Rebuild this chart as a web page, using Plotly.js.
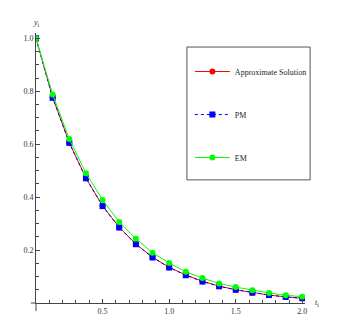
<!DOCTYPE html>
<html><head><meta charset="utf-8">
<script src="https://cdn.plot.ly/plotly-3.0.1.min.js"></script>
<style>html,body{margin:0;padding:0;background:#fff;}#chart{width:345px;height:317px;}</style>
</head><body><div id="chart"></div>
<script>
var tValues = [0, 0.125, 0.25, 0.375, 0.5, 0.625, 0.75, 0.875, 1.0, 1.125, 1.25, 1.375, 1.5, 1.625, 1.75, 1.875, 2.0];
var approxValues = [1.0, 0.777, 0.606, 0.472, 0.367, 0.286, 0.223, 0.173, 0.135, 0.106, 0.082, 0.064, 0.050, 0.039, 0.030, 0.023, 0.018];
var pmValues = [1.0, 0.775, 0.605, 0.471, 0.366, 0.285, 0.222, 0.172, 0.134, 0.105, 0.081, 0.063, 0.050, 0.039, 0.030, 0.023, 0.018];
var emValues = [1.0, 0.788, 0.620, 0.490, 0.389, 0.306, 0.243, 0.190, 0.151, 0.118, 0.094, 0.074, 0.060, 0.048, 0.038, 0.029, 0.024];
var seriesNames = ["Approximate Solution", "PM", "EM"];
var xTickVals = [0.5, 1.0, 1.5, 2.0];
var xTickText = ["0.5", "1.0", "1.5", "2.0"];
var yTickVals = [0.2, 0.4, 0.6, 0.8, 1.0];
var yTickText = ["0.2", "0.4", "0.6", "0.8", "1.0"];

var font = {family: "Liberation Serif, Times New Roman, serif", size: 8, color: "#333"};
var legendFont = {family: "Liberation Serif, Times New Roman, serif", size: 8, color: "#222"};

var traces = [
  {x: tValues, y: approxValues, name: seriesNames[0], mode: "lines+markers", legendgroup: "a",
   line: {color: "#ff0000", width: 1}, marker: {symbol: "circle", size: 6, color: "#ff0000"}},
  {x: tValues, y: pmValues, name: seriesNames[1], mode: "lines+markers", legendgroup: "b",
   line: {color: "#0000ff", width: 1, dash: "dot"}, marker: {symbol: "square", size: 6, color: "#0000ff"}},
  {x: tValues, y: emValues, name: seriesNames[2], mode: "lines+markers", legendgroup: "c",
   line: {color: "#00ff00", width: 1}, marker: {symbol: "circle", size: 6, color: "#00ff00"}}
];

var layout = {
  width: 345, height: 317,
  margin: {l: 36, r: 40, t: 33, b: 14, pad: 0},
  paper_bgcolor: "#fff", plot_bgcolor: "#fff",
  font: font,
  showlegend: true,
  legend: {x: 0.572, y: 0.911, xanchor: "left", yanchor: "top", bgcolor: "rgba(0,0,0,0)",
           borderwidth: 0, traceorder: "grouped", tracegroupgap: 24, itemwidth: 35, font: legendFont},
  xaxis: {range: [0, 2.02], showgrid: false, zeroline: false, showline: true, linecolor: "#444", linewidth: 1,
          tickmode: "array", tickvals: xTickVals, ticktext: xTickText, ticks: "inside", ticklen: 4,
          tickcolor: "#444", tickfont: font,
          minor: {dtick: 0.1, tick0: 0, ticks: "inside", ticklen: 3, tickcolor: "#444", showgrid: false}},
  yaxis: {range: [0, 1.02], showgrid: false, zeroline: false, showline: true, linecolor: "#444", linewidth: 1,
          tickmode: "array", tickvals: yTickVals, ticktext: yTickText, ticks: "inside", ticklen: 4,
          tickcolor: "#444", tickfont: font,
          minor: {dtick: 0.05, tick0: 0, ticks: "inside", ticklen: 3, tickcolor: "#444", showgrid: false}},
  shapes: [
    {type: "rect", xref: "paper", yref: "paper", x0: 0.561, x1: 1.019, y0: 0.456, y1: 0.948,
     line: {color: "#555", width: 1}, fillcolor: "rgba(0,0,0,0)"},
    {type: "line", xref: "paper", yref: "paper", x0: -0.019, x1: 0, y0: 0, y1: 0, line: {color: "#444", width: 1}},
    {type: "line", xref: "paper", yref: "paper", x0: 0, x1: 0, y0: -0.03, y1: 0, line: {color: "#444", width: 1}}
  ],
  annotations: [
    {text: "<i>y</i><sub>i</sub>", xref: "paper", yref: "paper", x: 0, y: 1.012, xanchor: "center", yanchor: "bottom",
     showarrow: false, font: {family: font.family, size: 8, color: "#333"}},
    {text: "<i>t</i><sub>i</sub>", xref: "paper", yref: "paper", x: 1.03, y: 0, xanchor: "left", yanchor: "middle",
     showarrow: false, font: {family: font.family, size: 8, color: "#333"}}
  ]
};
Plotly.newPlot("chart", traces, layout, {displayModeBar: false, staticPlot: true});
</script></body></html>
